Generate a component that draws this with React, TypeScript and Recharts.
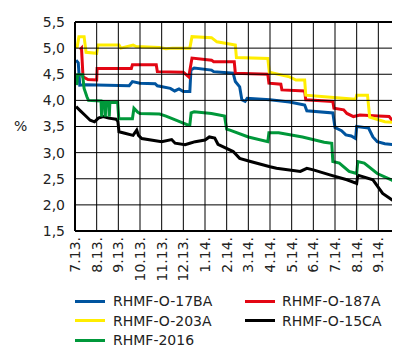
import React from 'react';
import { LineChart, Line, XAxis, YAxis } from 'recharts';

// month labels, one per vertical grid line (0 = 7.13.)
const monthLabels = [
  '7.13.', '8.13.', '9.13.', '10.13.', '11.13.', '12.13.', '1.14.', '2.14.',
  '3.14.', '4.14.', '5.14.', '6.14.', '7.14.', '8.14.', '9.14.', '10.14.',
];
const yTicks = [1.5, 2, 2.5, 3, 3.5, 4, 4.5, 5, 5.5];

// [month offset, yield %]
const rhmf17BA: [number, number][] = [
  [0.05, 4.77], [0.15, 4.72], [0.22, 4.29], [0.5, 4.3], [2.5, 4.28], [2.65, 4.36], [3.0, 4.33],
  [3.7, 4.32], [3.8, 4.28], [4.4, 4.23], [4.6, 4.18], [4.8, 4.22], [5.0, 4.17], [5.3, 4.17],
  [5.35, 4.58], [5.5, 4.62], [6.3, 4.58], [6.4, 4.55], [7.3, 4.52], [7.4, 4.36], [7.6, 4.26],
  [7.7, 4.01], [7.85, 3.98], [7.95, 4.04], [9.0, 4.01], [9.9, 3.97], [10.6, 3.91], [10.7, 3.8],
  [11.9, 3.76], [12.0, 3.48], [12.3, 3.42], [12.5, 3.34], [12.75, 3.32], [12.95, 3.27],
  [13.0, 3.5], [13.55, 3.47], [13.75, 3.3], [13.95, 3.21], [14.3, 3.17], [14.75, 3.15], [15.0, 3.17],
];

const rhmf187A: [number, number][] = [
  [0.23, 4.97], [0.3, 5.0], [0.37, 4.45], [0.6, 4.4], [1.0, 4.39], [1.02, 4.61], [2.6, 4.61],
  [2.65, 4.68], [3.75, 4.68], [3.8, 4.55], [5.0, 4.54], [5.25, 4.45], [5.4, 4.81], [6.3, 4.77],
  [6.4, 4.74], [7.35, 4.74], [7.4, 4.52], [8.9, 4.5], [8.95, 4.33], [9.5, 4.31], [9.55, 4.2],
  [10.6, 4.18], [10.65, 4.01], [11.9, 3.98], [11.95, 3.85], [12.4, 3.82], [12.55, 3.75],
  [12.85, 3.69], [13.15, 3.72], [14.0, 3.7], [14.5, 3.69], [14.85, 3.51], [15.0, 3.5],
];

const rhmf203A: [number, number][] = [
  [0.09, 5.0], [0.18, 5.22], [0.42, 5.22], [0.51, 4.92], [1.0, 4.9], [1.06, 5.06], [2.03, 5.06],
  [2.12, 5.0], [2.3, 5.02], [2.68, 5.06], [2.82, 5.03], [3.9, 5.01], [4.2, 4.99], [4.5, 5.0],
  [5.3, 5.0], [5.4, 5.22], [6.3, 5.2], [6.55, 5.12], [7.0, 5.09], [7.4, 5.06], [7.45, 4.82],
  [8.9, 4.8], [8.97, 4.54], [9.9, 4.45], [10.2, 4.39], [10.6, 4.39], [10.65, 4.1], [12.95, 4.02],
  [13.0, 4.1], [13.5, 4.1], [13.6, 3.68], [14.3, 3.59], [15.0, 3.57],
];

const rhmf15CA: [number, number][] = [
  [0.05, 3.88], [0.25, 3.8], [0.45, 3.72], [0.7, 3.62], [0.9, 3.59], [1.08, 3.66], [1.3, 3.69],
  [1.55, 3.66], [1.9, 3.64], [1.98, 3.6], [2.03, 3.4], [2.3, 3.37], [2.68, 3.33], [2.85, 3.43],
  [2.93, 3.33], [3.08, 3.27], [4.0, 3.21], [4.46, 3.25], [4.62, 3.18], [5.08, 3.15], [5.3, 3.18],
  [5.55, 3.21], [6.0, 3.24], [6.2, 3.3], [6.45, 3.28], [6.6, 3.16], [7.3, 3.02], [7.6, 2.89],
  [8.1, 2.83], [9.0, 2.73], [9.3, 2.7], [10.4, 2.64], [10.7, 2.7], [11.0, 2.67], [11.8, 2.57],
  [12.55, 2.48], [13.0, 2.41], [13.05, 2.57], [13.75, 2.48], [14.2, 2.22], [14.65, 2.09], [15.0, 2.03],
];

const rhmf2016: [number, number][] = [
  [0.08, 4.29], [0.12, 4.49], [0.35, 4.49], [0.42, 4.23], [0.55, 4.07], [0.62, 4.0], [1.2, 3.99],
  [1.23, 3.69], [1.26, 3.98], [1.37, 3.97], [1.4, 3.69], [1.43, 3.97], [1.55, 3.97], [1.58, 3.69],
  [1.61, 3.96], [1.97, 3.96], [2.02, 3.65], [2.65, 3.65], [2.72, 3.85], [2.9, 3.77], [3.0, 3.75],
  [3.9, 3.74], [4.2, 3.7], [4.8, 3.6], [5.2, 3.53], [5.3, 3.53], [5.36, 3.76], [5.5, 3.78],
  [6.3, 3.75], [6.9, 3.7], [7.0, 3.45], [7.15, 3.43], [8.0, 3.3], [8.9, 3.21], [8.95, 3.38],
  [9.4, 3.38], [10.5, 3.3], [11.5, 3.2], [11.85, 3.18], [11.9, 2.83], [12.2, 2.8], [12.65, 2.64],
  [13.0, 2.6], [13.05, 2.83], [13.35, 2.8], [13.95, 2.6], [14.6, 2.48], [14.85, 2.41], [15.0, 2.38],
];

const series = [
  { name: 'RHMF-O-17BA', color: '#00549f', points: rhmf17BA },
  { name: 'RHMF-O-187A', color: '#e30613', points: rhmf187A },
  { name: 'RHMF-O-203A', color: '#ffed00', points: rhmf203A },
  { name: 'RHMF-O-15CA', color: '#000000', points: rhmf15CA },
  { name: 'RHMF-2016', color: '#00983a', points: rhmf2016 },
];

const FONT = '"DejaVu Sans", sans-serif';
const INK = '#000000';

// chart box and plot edges
const CHART_W = 430;
const CHART_H = 339;
const MARGIN = { top: 14, right: 38, bottom: 0, left: 0 };
const Y_AXIS_W = 67;
const X_AXIS_H = 116;
const PLOT_LEFT = MARGIN.left + Y_AXIS_W;
const PLOT_RIGHT = CHART_W - MARGIN.right;
const PLOT_TOP = MARGIN.top;
const PLOT_BOTTOM = CHART_H - MARGIN.bottom - X_AXIS_H;

// each month tick carries its vertical grid line (the first one is the frame edge)
const MonthTick = (props: any) => {
  const { x, y, payload, index } = props;
  const w = index === 0 ? 2 : 1;
  return (
    <g>
      <rect x={x - w / 2} y={PLOT_TOP} width={w} height={PLOT_BOTTOM - PLOT_TOP} fill={INK} />
      <text
        x={x}
        y={y}
        transform={`rotate(-90, ${x}, ${y})`}
        textAnchor="end"
        dy="0.35em"
        fontSize={14}
        fill="#222222"
        fontFamily={FONT}
      >
        {monthLabels[payload.value]}
      </text>
    </g>
  );
};

// each value tick carries its horizontal grid line (top and bottom are the frame)
const ValueTick = (props: any) => {
  const { x, y, payload } = props;
  const edge = payload.value === yTicks[0] || payload.value === yTicks[yTicks.length - 1];
  const w = edge ? 2 : 1;
  return (
    <g>
      <rect x={PLOT_LEFT} y={y - w / 2} width={PLOT_RIGHT - PLOT_LEFT} height={w} fill={INK} />
      <text x={x} y={y} textAnchor="end" dy="0.35em" fontSize={14} fill="#222222" fontFamily={FONT}>
        {payload.value.toFixed(1).replace('.', ',')}
      </text>
    </g>
  );
};

// two-column key under the plot
const Key = () => (
  <div style={{ position: 'absolute', left: 0, top: 283, width: 392, height: 60, fontFamily: FONT, fontSize: 14, color: '#222222' }}>
    {series.map((s, i) => (
      <div
        key={s.name}
        style={{
          position: 'absolute',
          left: i % 2 === 0 ? 67 : 237,
          top: Math.floor(i / 2) * 19.5,
          height: 20,
          display: 'flex',
          alignItems: 'center',
          whiteSpace: 'nowrap',
        }}
      >
        <span style={{ display: 'inline-block', width: 30, height: 3, background: s.color }} />
        <span style={{ marginLeft: i % 2 === 0 ? 8 : 7 }}>{s.name}</span>
      </div>
    ))}
  </div>
);

export default function App() {
  return (
    <div style={{ width: 392, height: 339, overflow: 'hidden', position: 'relative' }}>
      <LineChart width={CHART_W} height={CHART_H} margin={MARGIN}>
        <XAxis
          type="number"
          dataKey="m"
          domain={[0, monthLabels.length - 1]}
          ticks={monthLabels.map((_, i) => i)}
          interval={0}
          height={X_AXIS_H}
          tick={<MonthTick />}
          tickLine={false}
          tickMargin={0}
          axisLine={false}
        />
        <YAxis
          type="number"
          domain={[yTicks[0], yTicks[yTicks.length - 1]]}
          ticks={yTicks}
          interval={0}
          width={Y_AXIS_W}
          tickLine={false}
          tickMargin={4}
          tick={<ValueTick />}
          axisLine={false}
          label={{ value: '%', position: 'insideLeft', offset: 6, fontSize: 14, fill: '#222222', fontFamily: FONT }}
        />
        {series.map((s) => (
          <Line
            key={s.name}
            name={s.name}
            data={s.points.map(([m, v]) => ({ m, v }))}
            dataKey="v"
            type="linear"
            stroke={s.color}
            strokeWidth={3}
            dot={false}
            activeDot={false}
            isAnimationActive={false}
          />
        ))}
      </LineChart>
      <Key />
    </div>
  );
}
